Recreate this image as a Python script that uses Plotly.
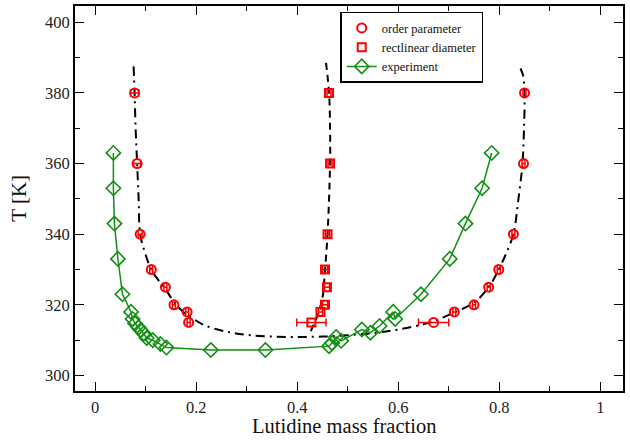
import plotly.graph_objects as go

# Order parameter (circles)
op_x = [0.078, 0.083, 0.089, 0.111, 0.139, 0.156, 0.182, 0.185,
        0.850, 0.848, 0.828, 0.799, 0.779, 0.750, 0.711, 0.670]
op_T = [380, 360, 340, 330, 325, 320, 318, 315,
        380, 360, 340, 330, 325, 320, 318, 315]
op_err = [0.008, 0.007, 0.004, 0.003, 0.003, 0.003, 0.003, 0.003,
          0.003, 0.003, 0.003, 0.003, 0.003, 0.003, 0.003, 0.030]

# Rectilinear diameter (squares)
rd_x = [0.463, 0.465, 0.460, 0.455, 0.459, 0.455, 0.446, 0.428]
rd_T = [380, 360, 340, 330, 325, 320, 318, 315]
rd_err = [0.004, 0.004, 0.004, 0.005, 0.005, 0.005, 0.004, 0.029]

# Experiment (diamonds)
ex_x = [0.036, 0.036, 0.038, 0.045, 0.054, 0.071, 0.074, 0.079, 0.086, 0.090,
        0.096, 0.102, 0.114, 0.129, 0.141, 0.229, 0.337, 0.463, 0.469, 0.477,
        0.487, 0.528, 0.545, 0.563, 0.590, 0.594, 0.645, 0.702, 0.733, 0.766, 0.785]
ex_T = [363, 353, 343, 333, 323, 318, 316, 314.7, 313.6, 312.8,
        311.9, 310.6, 310, 308.9, 307.9, 307.2, 307.2, 308.3, 309.2, 310.9,
        309.8, 313, 312.1, 314, 318, 316, 323, 333, 343, 353, 363]

# Coexistence fit (dash-dot)
fit_x = [0.076, 0.078, 0.080, 0.083, 0.086, 0.089, 0.098, 0.111, 0.125, 0.139,
         0.156, 0.180, 0.200, 0.220, 0.260, 0.300, 0.350, 0.400, 0.450, 0.500,
         0.550, 0.600, 0.650, 0.670, 0.710, 0.750, 0.779, 0.799, 0.815, 0.828,
         0.838, 0.846, 0.849, 0.850, 0.847, 0.840]
fit_T = [387.5, 380, 370, 360, 350, 340, 335, 330, 327, 324.5,
         320.8, 317.3, 315.5, 314.0, 312.4, 311.5, 311.0, 310.9, 311.0, 311.4,
         312.0, 313.0, 314.5, 315.3, 317.8, 320.6, 325, 330, 335, 340,
         350, 360, 370, 380, 385, 387.5]

# Diameter fit (dashed)
dia_x = [0.457, 0.463, 0.465, 0.465, 0.460, 0.455, 0.450, 0.440, 0.425]
dia_T = [388.5, 380, 370, 360, 340, 330, 322, 317, 312]

GREEN = "#119011"
fig = go.Figure()
fig.add_trace(go.Scatter(x=fit_x, y=fit_T, mode="lines", showlegend=False,
                         line=dict(color="black", width=2, dash="9px,5px,2px,5px"),
                         line_shape="spline"))
fig.add_trace(go.Scatter(x=dia_x, y=dia_T, mode="lines", showlegend=False,
                         line=dict(color="black", width=2, dash="7px,5px"),
                         line_shape="spline"))
fig.add_trace(go.Scatter(x=ex_x, y=ex_T, mode="lines+markers", name="experiment",
                         legendrank=3,
                         line=dict(color=GREEN, width=1.5),
                         marker=dict(symbol="diamond-open", size=11, color=GREEN,
                                     line=dict(width=1.6, color=GREEN))))
fig.add_trace(go.Scatter(x=op_x, y=op_T, mode="markers", name="order parameter",
                         legendrank=1,
                         error_x=dict(type="data", array=op_err, color="red",
                                      thickness=1.5, width=4),
                         marker=dict(symbol="circle-open", size=9, color="red",
                                     line=dict(width=2, color="red"))))
fig.add_trace(go.Scatter(x=rd_x, y=rd_T, mode="markers", name="rectlinear diameter",
                         legendrank=2,
                         error_x=dict(type="data", array=rd_err, color="red",
                                      thickness=1.5, width=4),
                         marker=dict(symbol="square-open", size=8, color="red",
                                     line=dict(width=2, color="red"))))

font = "Liberation Serif"
axis_common = dict(showline=True, linecolor="black", linewidth=2, mirror="allticks",
                   ticks="inside", ticklen=9, tickwidth=1.3, tickcolor="black",
                   showgrid=False, zeroline=False, automargin=False,
                   tickfont=dict(family=font, size=16.5, color="#222"))
fig.update_xaxes(range=[-0.04, 1.045], tickvals=[0, 0.2, 0.4, 0.6, 0.8, 1],
                 ticktext=["0", "0.2", "0.4", "0.6", "0.8", "1"],
                 minor=dict(dtick=0.1, ticks="inside", ticklen=5, tickcolor="black",
                            tickwidth=1.3),
                 **axis_common)
fig.update_yaxes(range=[295.6, 404.6], tickvals=[300, 320, 340, 360, 380, 400],
                 minor=dict(dtick=10, ticks="inside", ticklen=5, tickcolor="black",
                            tickwidth=1.3),
                 **axis_common)
fig.add_annotation(text="Lutidine mass fraction", xref="paper", yref="paper",
                   x=0.49, y=-0.058, xanchor="center", yanchor="top", showarrow=False,
                   font=dict(family=font, size=20.5, color="#111"))
fig.add_annotation(text="T [K]", xref="paper", yref="paper",
                   x=-0.078, y=0.5, xanchor="right", yanchor="middle", showarrow=False,
                   textangle=-90, font=dict(family=font, size=21, color="#111"))
fig.update_layout(width=630, height=440, plot_bgcolor="white", paper_bgcolor="white",
                  margin=dict(l=75, r=7, t=6, b=49),
                  legend=dict(x=0.484, y=0.985, xanchor="left", yanchor="top",
                              bgcolor="white", bordercolor="black", borderwidth=1.5,
                              font=dict(family=font, size=12.5, color="#111"),
                              traceorder="normal", itemwidth=30, tracegroupgap=0))
fig.write_html("out.html", config={"displayModeBar": False},
               post_script="document.body.style.margin='0';")
